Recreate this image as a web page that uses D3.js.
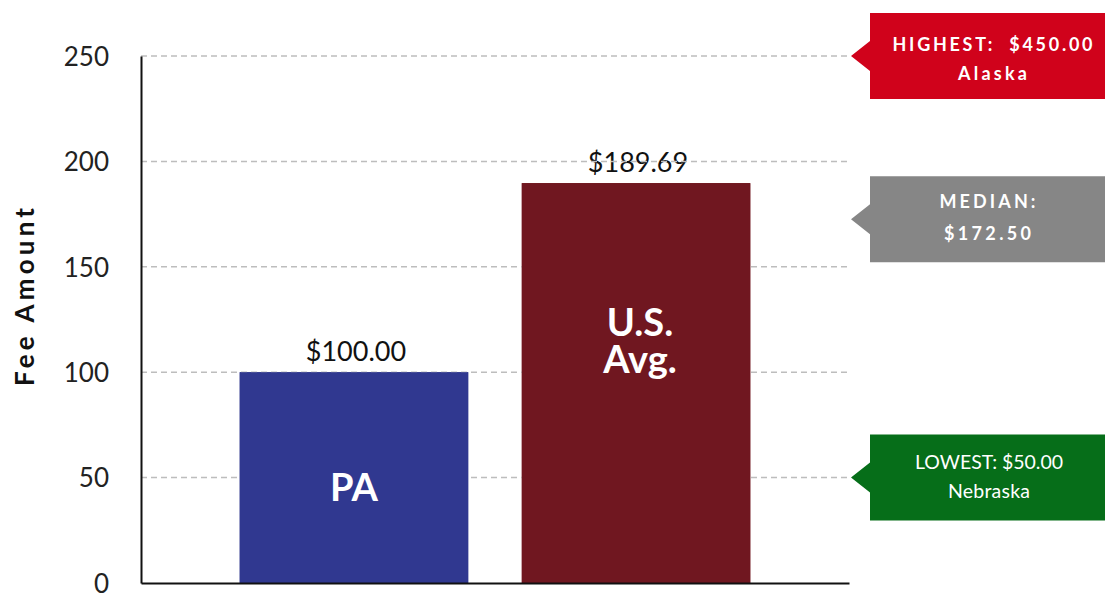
<!DOCTYPE html>
<html><head><meta charset="utf-8">
<script src="https://cdn.jsdelivr.net/npm/d3@7"></script>
<style>html,body{margin:0;padding:0;background:#fff;}svg{display:block;font-family:Lato,"Noto Sans",sans-serif;}</style>
</head><body>
<svg id="chart" width="1105" height="601"></svg>
<script>
const categories = ["PA", "U.S. Avg."];
const barLabels = [["PA"], ["U.S.", "Avg."]];
const values = [100.00, 189.69];
const valueLabels = ["$100.00", "$189.69"];
const barColors = ["#303890", "#701720"];
const yTicks = [0, 50, 100, 150, 200, 250];
const calloutNames = ["HIGHEST", "MEDIAN", "LOWEST"];
const calloutValues = [450.00, 172.50, 50.00];
const calloutLines = [["HIGHEST:\u00a0\u00a0$450.00", "Alaska"], ["MEDIAN:", "$172.50"], ["LOWEST: $50.00", "Nebraska"]];
const calloutColors = ["#d0021b", "#868686", "#066e19"];

const svg = d3.select("#chart");
const m = {left: 141, right: 256, top: 56, bottom: 18};
const W = 1105, H = 601;
const x = d3.scaleBand().domain(categories).range([m.left, W - m.right]).paddingInner(0.19).paddingOuter(0.35);
const y = d3.scaleLinear().domain([0, 250]).range([H - m.bottom, m.top]);

// bars
svg.append("g").selectAll("rect").data(categories).join("rect")
  .attr("x", d => x(d)).attr("width", x.bandwidth())
  .attr("y", (d, i) => y(values[i])).attr("height", (d, i) => y(0) - y(values[i]))
  .attr("fill", (d, i) => barColors[i]);

// value labels
svg.append("g").selectAll("text").data(categories).join("text")
  .attr("x", d => x(d) + x.bandwidth() / 2 + 2).attr("y", (d, i) => y(values[i]) - 11.5)
  .attr("text-anchor", "middle").attr("font-size", 27).attr("fill", "#111")
  .text((d, i) => valueLabels[i]);

// gridlines (drawn over, reference shows them crossing labels)
svg.append("g").selectAll("line").data(yTicks.filter(d => d > 0)).join("line")
  .attr("x1", m.left).attr("x2", W - m.right + 1)
  .attr("y1", d => y(d)).attr("y2", d => y(d))
  .attr("stroke", "#bdbdbd").attr("stroke-width", 1.5).attr("stroke-dasharray", "6,4");

// bars over gridlines
svg.append("g").selectAll("rect").data(categories).join("rect")
  .attr("x", d => x(d)).attr("width", x.bandwidth())
  .attr("y", (d, i) => y(values[i])).attr("height", (d, i) => y(0) - y(values[i]))
  .attr("fill", (d, i) => barColors[i]);

// inner bar labels
const labelAnchors = [39, 117];
categories.forEach((c, i) => {
  const t = svg.append("text").attr("text-anchor", "middle").attr("font-size", 38).attr("font-weight", 700).attr("fill", "#fff");
  barLabels[i].forEach((ln, j) => {
    t.append("tspan").attr("x", x(c) + x.bandwidth() / 2 + (i === 1 ? 4 : 0)).attr("y", y(labelAnchors[i]) + j * 37).text(ln);
  });
});

// axes
const yAxis = d3.axisLeft(y).tickValues(yTicks).tickSize(0).tickPadding(32);
const gy = svg.append("g").attr("transform", `translate(${m.left},0)`).call(yAxis);
gy.select(".domain").attr("stroke", "#111").attr("stroke-width", 2);
gy.selectAll("text").attr("font-size", 26).attr("fill", "#222").attr("font-family", "Lato").attr("dy", "0.36em");
const xAxis = d3.axisBottom(x).tickSize(0).tickFormat("");
const gx = svg.append("g").attr("transform", `translate(0,${y(0)})`).call(xAxis);
gx.select(".domain").attr("stroke", "#111").attr("stroke-width", 2);

// y title
svg.append("text").attr("transform", `translate(34,297) rotate(-90)`)
  .attr("text-anchor", "middle").attr("font-size", 26).attr("font-weight", 700).attr("fill", "#111")
  .attr("textLength", 178).attr("lengthAdjust", "spacing")
  .text("Fee Amount");

// callouts
const ymax = y.domain()[1];
const lineOffsets = [[-5, 24], [-11, 21], [-9, 20]];
const lineWidths = [[200, 69], [96, 87], [148, 82]];
const lineShift = [5, 0, 1.5];
calloutNames.forEach((n, i) => {
  const cy = y(Math.min(calloutValues[i], ymax));
  const tip = 851, bx = 870, bh = 86, bw = W - bx;
  const g = svg.append("g");
  g.append("path")
    .attr("d", `M${tip},${cy} L${bx},${cy - 15} L${bx},${cy - bh / 2} L${bx + bw},${cy - bh / 2} L${bx + bw},${cy + bh / 2} L${bx},${cy + bh / 2} L${bx},${cy + 15} Z`)
    .attr("fill", calloutColors[i]);
  const bold = i < 2;
  calloutLines[i].forEach((ln, j) => {
    g.append("text").attr("x", bx + bw / 2 + lineShift[i]).attr("y", cy + lineOffsets[i][j])
      .attr("text-anchor", "middle").attr("font-size", bold ? 18 : 19.5)
      .attr("font-weight", bold ? 700 : 400)
      .attr("textLength", lineWidths[i][j]).attr("lengthAdjust", "spacing")
      .attr("fill", "#fff").text(ln);
  });
});
</script>
</body></html>
